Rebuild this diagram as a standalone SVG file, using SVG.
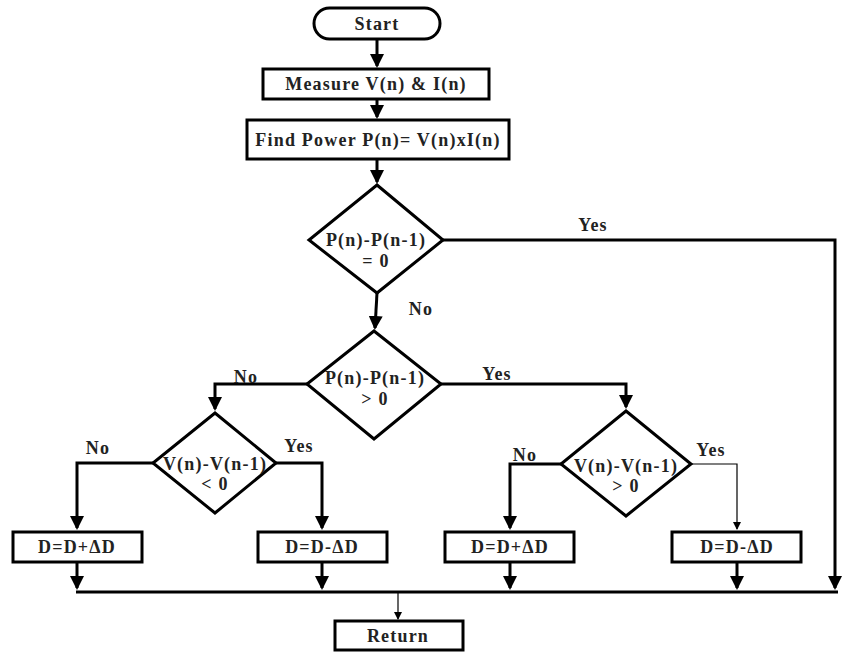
<svg xmlns="http://www.w3.org/2000/svg" width="842" height="653" viewBox="0 0 842 653">
<style>
.shape{fill:#fff;stroke:#000;stroke-width:3}
.ln{fill:none;stroke:#000;stroke-width:3;marker-end:url(#ah)}
.thin{fill:none;stroke:#000;stroke-width:1.2;marker-end:url(#ahs)}
.plain{fill:none;stroke:#000;stroke-width:3}
text{font-family:"Liberation Serif","Times New Roman",serif;font-weight:bold;font-size:18px;letter-spacing:1.2px;fill:#222;text-anchor:middle}
</style>
<defs>
<marker id="ah" markerUnits="userSpaceOnUse" markerWidth="14" markerHeight="14" viewBox="0 0 14 14" refX="12" refY="7" orient="auto">
<path d="M0,0 L14,7 L0,14 Z" fill="#000"/>
</marker>
<marker id="ahs" markerUnits="userSpaceOnUse" markerWidth="8" markerHeight="8" viewBox="0 0 8 8" refX="7" refY="4" orient="auto">
<path d="M0,0 L8,4 L0,8 Z" fill="#000"/>
</marker>
</defs>
<g id="connectors">
<path class="ln" d="M377,39 V66"/>
<path class="ln" d="M377,99 V117"/>
<path class="ln" d="M377,159 V182"/>
<path class="ln" d="M377,293 L375,328"/>
<path class="ln" d="M443,240 H835 V588"/>
<path class="ln" d="M307,384 H215 V409"/>
<path class="ln" d="M441,384 H626 V407"/>
<path class="ln" d="M153,463 H77 V528"/>
<path class="ln" d="M276,463 H322 V528"/>
<path class="ln" d="M561,464 H510 V528"/>
<path class="thin" d="M691,464 H737 V529"/>
<path class="ln" d="M77,563 V588"/>
<path class="ln" d="M322,563 V588"/>
<path class="ln" d="M510,563 V588"/>
<path class="ln" d="M737,563 V588"/>
<path class="plain" d="M76,592 H838"/>
<path class="thin" d="M398,592 V619"/>
</g>
<g id="start">
<rect class="shape" x="314" y="8" width="126" height="31" rx="15.5"/>
<text x="377" y="30">Start</text>
</g>
<g id="measure">
<rect class="shape" x="263" y="69" width="226" height="30"/>
<text x="376" y="90">Measure V(n) &amp; I(n)</text>
</g>
<g id="power">
<rect class="shape" x="247" y="120" width="262" height="39"/>
<text x="378" y="146">Find Power P(n)= V(n)xI(n)</text>
</g>
<g id="dec1">
<polygon class="shape" points="377,185 443,240 377,293 309,240"/>
<text x="376" y="246">P(n)-P(n-1)</text>
<text x="376" y="267">= 0</text>
</g>
<g id="dec2">
<polygon class="shape" points="374,331 441,384 374,439 307,384"/>
<text x="375" y="384">P(n)-P(n-1)</text>
<text x="375" y="405">&gt; 0</text>
</g>
<g id="dec3">
<polygon class="shape" points="215,413 276,463 215,513 153,463"/>
<text x="215" y="470">V(n)-V(n-1)</text>
<text x="215" y="490">&lt; 0</text>
</g>
<g id="dec4">
<polygon class="shape" points="626,411 691,464 626,516 561,464"/>
<text x="626" y="472">V(n)-V(n-1)</text>
<text x="626" y="492">&gt; 0</text>
</g>
<g id="box1">
<rect class="shape" x="13" y="532" width="129" height="30"/>
<text x="77" y="553">D=D+ΔD</text>
</g>
<g id="box2">
<rect class="shape" x="258" y="532" width="129" height="30"/>
<text x="322" y="553">D=D-ΔD</text>
</g>
<g id="box3">
<rect class="shape" x="445" y="532" width="129" height="30"/>
<text x="510" y="553">D=D+ΔD</text>
</g>
<g id="box4">
<rect class="shape" x="672" y="532" width="129" height="30"/>
<text x="737" y="553">D=D-ΔD</text>
</g>
<g id="return">
<rect class="shape" x="335" y="621" width="128" height="29"/>
<text x="398" y="642">Return</text>
</g>
<g id="labels">
<text x="593" y="231">Yes</text>
<text x="421" y="315">No</text>
<text x="246" y="383">No</text>
<text x="497" y="380">Yes</text>
<text x="98" y="454">No</text>
<text x="299" y="452">Yes</text>
<text x="525" y="461">No</text>
<text x="711" y="456">Yes</text>
</g>
</svg>
